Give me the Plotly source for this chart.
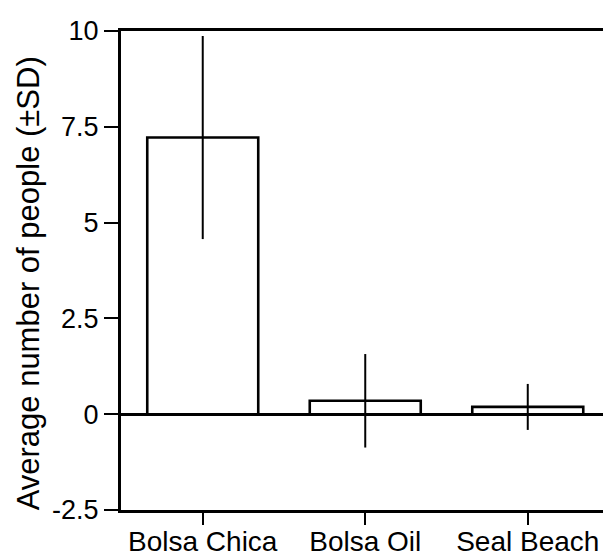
import plotly.graph_objects as go

categories = ["Bolsa Chica", "Bolsa Oil", "Seal Beach"]
means = [7.22, 0.35, 0.19]
sds = [2.65, 1.22, 0.60]
y_tick_vals = [-2.5, 0, 2.5, 5, 7.5, 10]
y_tick_text = ["-2.5", "0", "2.5", "5", "7.5", "10"]
y_title = "Average number of people (±SD)"

FONT = "Liberation Sans, Arial, Helvetica, sans-serif"

fig = go.Figure()
fig.add_trace(go.Bar(
    x=categories,
    y=means,
    width=0.683,
    marker=dict(color="white", line=dict(color="black", width=2.6)),
    error_y=dict(type="data", array=sds, visible=True, color="black",
                 thickness=2, width=0),
    showlegend=False,
))

fig.update_layout(
    width=603, height=557,
    margin=dict(l=121, r=0, t=31, b=47),
    paper_bgcolor="white", plot_bgcolor="white",
    font=dict(family=FONT, color="black"),
    xaxis=dict(
        type="category",
        range=[-0.503, 2.463],
        automargin=False,
        showline=True, linecolor="black", linewidth=3, mirror=True,
        ticks="outside", ticklen=12, tickwidth=2, tickcolor="black",
        tickfont=dict(size=28, family=FONT),
        ticklabelstandoff=-8,
        showgrid=False, zeroline=False,
    ),
    yaxis=dict(
        range=[-2.5, 10],
        automargin=False,
        tickvals=y_tick_vals, ticktext=y_tick_text,
        showline=True, linecolor="black", linewidth=3,
        ticks="outside", ticklen=14, tickwidth=2, tickcolor="black",
        tickfont=dict(size=27, family=FONT),
        showgrid=False,
        zeroline=True, zerolinecolor="black", zerolinewidth=2.6,
    ),
    annotations=[dict(
        text=y_title, textangle=-90, showarrow=False,
        xref="paper", yref="paper",
        x=-0.19, y=0.474, xanchor="center", yanchor="middle",
        font=dict(size=31, family=FONT, color="black"),
    )],
)

fig.write_html("out.html",
               config={"displayModeBar": False},
               post_script="document.body.style.margin='0';document.body.style.overflow='hidden';")
